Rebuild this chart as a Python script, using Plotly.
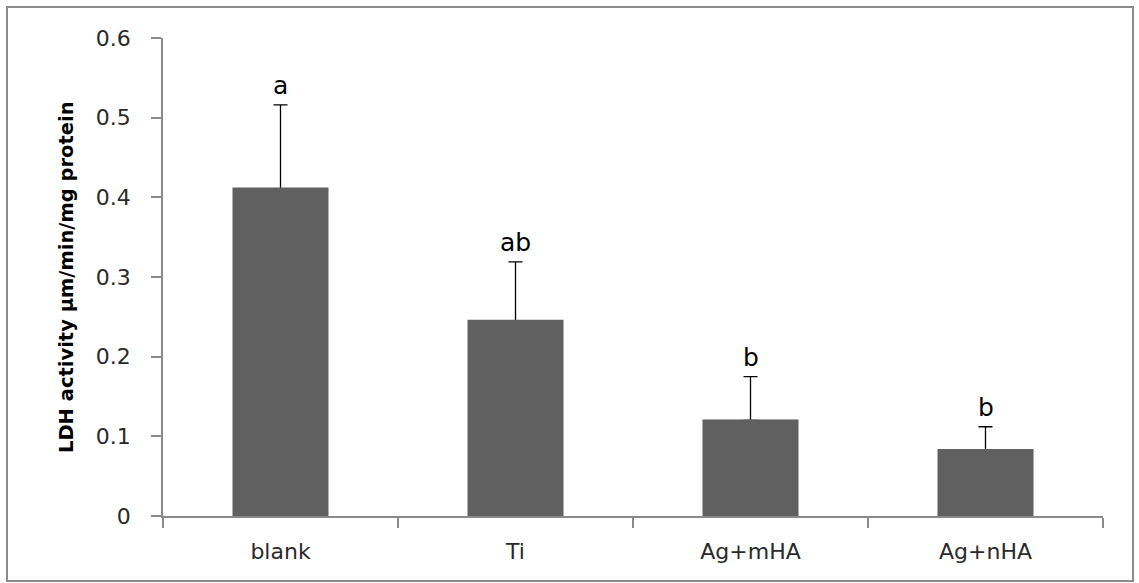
import plotly.graph_objects as go

categories = ["blank", "Ti", "Ag+mHA", "Ag+nHA"]
means = [0.411, 0.245, 0.120, 0.083]
errors_plus = [0.105, 0.074, 0.055, 0.029]
letters = ["a", "ab", "b", "b"]
y_ticks = [0, 0.1, 0.2, 0.3, 0.4, 0.5, 0.6]
y_tick_labels = ["0", "0.1", "0.2", "0.3", "0.4", "0.5", "0.6"]
y_title = "LDH activity µm/min/mg protein"

FONT = "DejaVu Sans"
AXIS_GRAY = "#8a8a8a"
BAR_FILL = "#606060"

fig = go.Figure()
# bars carrying the plus-only error bars
fig.add_trace(go.Bar(
    x=categories,
    y=means,
    width=0.4,
    marker=dict(color=BAR_FILL, line=dict(color=BAR_FILL, width=1)),
    error_y=dict(type="data", array=errors_plus, arrayminus=[0] * len(means),
                 symmetric=False, color="#000000", thickness=1.3, width=7),
    showlegend=False,
))
# same bars again on top, hiding the lower cap of the error bars
fig.add_trace(go.Bar(
    x=categories,
    y=means,
    width=0.4,
    marker=dict(color=BAR_FILL, line=dict(color=BAR_FILL, width=2)),
    showlegend=False,
    hoverinfo="skip",
))

for cat, m, e, lab in zip(categories, means, errors_plus, letters):
    fig.add_annotation(x=cat, y=m + e, text=lab, showarrow=False,
                       xanchor="center", yanchor="bottom", yshift=3,
                       font=dict(family=FONT, size=25, color="#000000"))

fig.add_annotation(xref="paper", yref="paper", x=(66 - 163) / 940, y=0.5,
                   text=y_title, textangle=-90, showarrow=False,
                   xanchor="center", yanchor="middle",
                   font=dict(family=FONT, size=19.5, color="#000000", weight="bold"))

fig.add_shape(type="rect", xref="paper", yref="paper",
              x0=(7 - 163) / 940, x1=(1133 - 163) / 940,
              y0=(516 - 581) / 478, y1=(516 - 7) / 478,
              line=dict(color="#8c8c8c", width=2), fillcolor="rgba(0,0,0,0)", layer="below")

fig.update_layout(
    width=1139, height=583,
    margin=dict(l=163, r=36, t=38, b=67),
    paper_bgcolor="white", plot_bgcolor="white",
    barmode="overlay",
    font=dict(family=FONT, color="#333333"),
)
fig.update_xaxes(
    type="category", range=[-0.5, 3.5],
    showline=True, linecolor=AXIS_GRAY, linewidth=1.5,
    ticks="outside", tickson="boundaries", ticklen=10, tickcolor=AXIS_GRAY, tickwidth=1.5,
    tickfont=dict(family=FONT, size=22, color="#2a2a2a"),
    ticklabelstandoff=15,
    showgrid=False, zeroline=False,
)
fig.update_yaxes(
    range=[0, 0.6], tickvals=y_ticks, ticktext=y_tick_labels,
    showline=True, linecolor=AXIS_GRAY, linewidth=1.5,
    ticks="outside", ticklen=10, tickcolor=AXIS_GRAY, tickwidth=1.5,
    tickfont=dict(family=FONT, size=22, color="#2a2a2a"),
    ticklabelstandoff=16,
    showgrid=False, zeroline=False,
)

fig.write_html("out.html", config={"displayModeBar": False},
               post_script="document.body.style.margin='0';")
